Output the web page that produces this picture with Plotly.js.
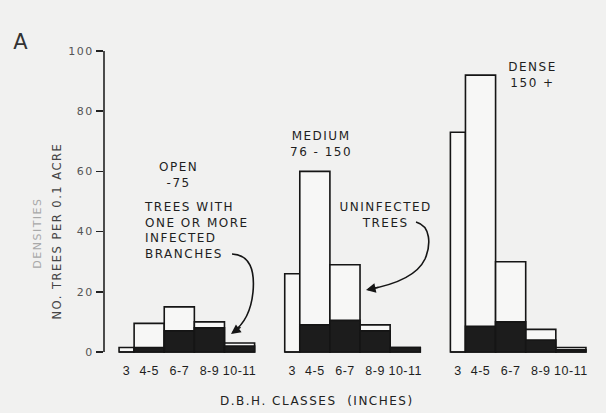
<!DOCTYPE html>
<html>
<head>
<meta charset="utf-8">
<script src="https://cdn.plot.ly/plotly-3.0.1.min.js"></script>
<style>
  html, body { margin: 0; padding: 0; background: #f1f1f0; }
  #chart { width: 606px; height: 413px; }
  .main-svg text { letter-spacing: 1.5px; }
  .main-svg .xtick text { letter-spacing: 0.5px; }
</style>
</head>
<body>
<div id="chart"></div>
<script>
// ---- data ----
const classes = ['3', '4-5', '6-7', '8-9', '10-11'];
const classEdges = [2.5, 3.5, 5.5, 7.5, 9.5, 11.5]; // DBH class bounds (inches)
const groups = ['OPEN<br>-75', 'MEDIUM<br>76 - 150', 'DENSE<br>150 +'];
const openTotal = [1.5, 9.5, 15, 10, 3];
const openInfected = [0, 1.5, 7, 8, 2];
const mediumTotal = [26, 60, 29, 9, 1.5];
const mediumInfected = [0, 9, 10.5, 7, 1.5];
const denseTotal = [73, 92, 30, 7.5, 1.5];
const denseInfected = [0, 8.5, 10, 4, 0.7];
const yTicks = [0, 20, 40, 60, 80, 100];

// ---- layout helpers ----
const W = 606, H = 413, ML = 104, MR = 5, MT = 51, MB = 58;
const XR = [1.5, 34.5], YR = [-1, 100];
const groupGap = 11;
const dataX = px => XR[0] + (px - ML) / (W - ML - MR) * (XR[1] - XR[0]);
const dataY = py => YR[1] - (py - MT) / (H - MT - MB) * (YR[1] - YR[0]);
const paperX = px => (px - ML) / (W - ML - MR);
const paperY = py => (H - MB - py) / (H - MT - MB);

const totals = [openTotal, mediumTotal, denseTotal];
const infected = [openInfected, mediumInfected, denseInfected];

const xs = [], ws = [], tot = [], inf = [], labels = [];
totals.forEach((arr, g) => {
  classes.forEach((c, i) => {
    xs.push((classEdges[i] + classEdges[i + 1]) / 2 + g * groupGap);
    ws.push(classEdges[i + 1] - classEdges[i]);
    tot.push(arr[i]);
    inf.push(infected[g][i]);
    labels.push(c);
  });
});

const traces = [
  { type: 'bar', x: xs, y: tot, width: ws, name: 'Uninfected trees',
    marker: { color: '#f7f7f6', line: { color: '#151515', width: 1.6 } },
    hoverinfo: 'skip' },
  { type: 'bar', x: xs, y: inf, width: ws, name: 'Infected trees',
    marker: { color: '#1c1c1c', line: { color: '#151515', width: 1.6 } },
    hoverinfo: 'skip' }
];

const font = 'DejaVu Sans, Arial, sans-serif';
const ann = (text, px, py, opts = {}) => Object.assign({
  text, xref: 'paper', yref: 'paper', x: paperX(px), y: paperY(py),
  xanchor: 'center', yanchor: 'middle', showarrow: false,
  font: { family: font, size: 12, color: '#1e1e1e' }
}, opts);

const annotations = [
  ann('A', 21, 42, { font: { family: font, size: 21, color: '#333' } }),
  ann('DENSITIES', 38, 233, { textangle: -90, font: { family: font, size: 11, color: '#a8a8a8' } }),
  ann('NO. TREES PER 0.1 ACRE', 57, 231, { textangle: -90, font: { family: font, size: 11.5, color: '#444' } }),
  ann(groups[0], 178, 175),
  ann(groups[1], 321, 144),
  ann(groups[2], 532, 75),
  ann('TREES WITH<br>ONE OR MORE<br>INFECTED<br>BRANCHES', 142, 230, { xanchor: 'left', align: 'left' }),
  ann('UNINFECTED<br>TREES', 385, 215),
  ann('D.B.H. CLASSES  (INCHES)', 317, 401, { font: { family: font, size: 12, color: '#222' } }),
  // arrowheads
  { xref: 'x', yref: 'y', x: dataX(231), y: dataY(334), ax: 11, ay: -8, text: '',
    showarrow: true, arrowhead: 2, arrowsize: 1.2, arrowwidth: 1.6, arrowcolor: '#151515', standoff: 0 },
  { xref: 'x', yref: 'y', x: dataX(366), y: dataY(290), ax: 14, ay: -3, text: '',
    showarrow: true, arrowhead: 2, arrowsize: 1.2, arrowwidth: 1.6, arrowcolor: '#151515', standoff: 0 }
];

const pathFrom = segs => segs.map(s => s[0] + ' ' + s.slice(1).map(p => dataX(p[0]) + ',' + dataY(p[1])).join(' ')).join(' ');

const shapes = [
  { type: 'line', xref: 'paper', yref: 'y', x0: 0, x1: 0, y0: 0, y1: 100,
    line: { color: '#222', width: 1.6 } },
  { type: 'path', xref: 'x', yref: 'y', line: { color: '#151515', width: 1.6 },
    path: pathFrom([['M', [232, 254]], ['C', [250, 255], [255, 270], [253, 292]], ['C', [251, 312], [243, 325], [233, 332]]]) },
  { type: 'path', xref: 'x', yref: 'y', line: { color: '#151515', width: 1.6 },
    path: pathFrom([['M', [416, 222]], ['C', [431, 226], [431, 245], [425, 259]], ['C', [417, 276], [393, 285], [368, 289.5]]]) }
];

const layout = {
  width: W, height: H,
  margin: { l: ML, r: MR, t: MT, b: MB, pad: 0 },
  paper_bgcolor: '#f1f1f0', plot_bgcolor: 'rgba(0,0,0,0)',
  barmode: 'overlay', showlegend: false,
  font: { family: font, color: '#222' },
  xaxis: { range: XR, tickvals: xs, ticktext: labels, ticks: '', showline: false,
    showgrid: false, zeroline: false, ticklabelstandoff: 6,
    tickfont: { family: 'Liberation Sans, Arial, sans-serif', size: 12.5, color: '#1e1e1e' }, fixedrange: true },
  yaxis: { range: YR, tickvals: yTicks, ticks: 'outside', ticklen: 7, tickwidth: 1.5,
    tickcolor: '#222', showline: false, showgrid: false, zeroline: false,
    tickfont: { family: font, size: 11, color: '#555' }, fixedrange: true },
  annotations, shapes
};

Plotly.newPlot('chart', traces, layout, { staticPlot: true, displayModeBar: false });
</script>
</body>
</html>
